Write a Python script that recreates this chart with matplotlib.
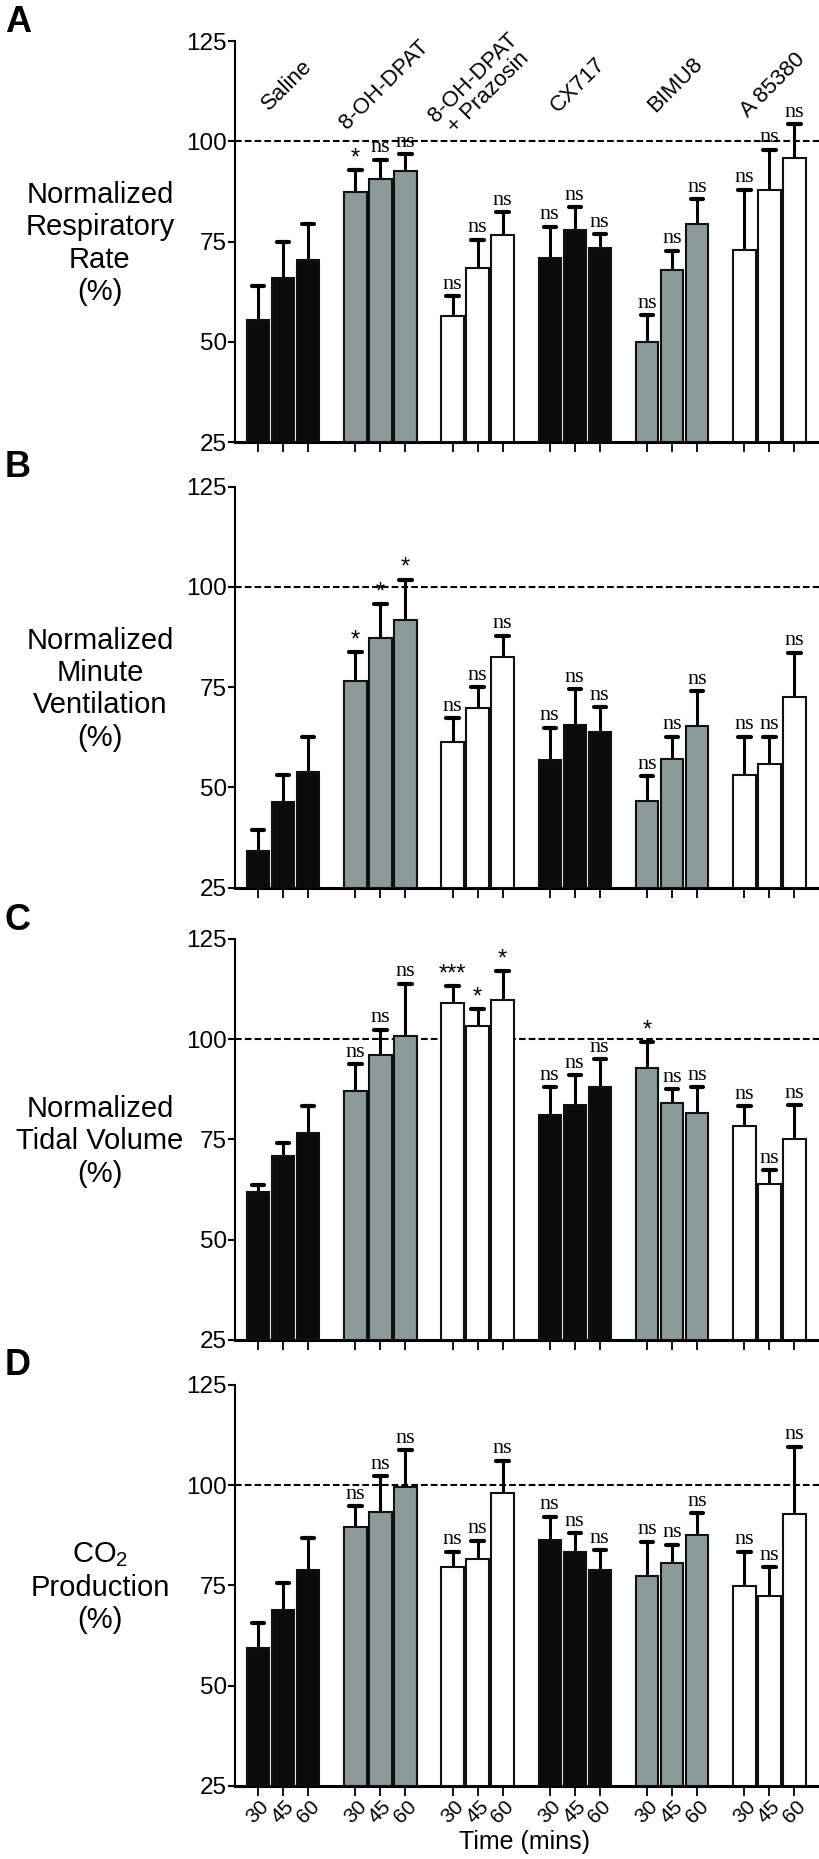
import matplotlib
matplotlib.use('Agg')
import matplotlib.pyplot as plt
import matplotlib.transforms as mtransforms
import numpy as np

groups = ['Saline', '8-OH-DPAT', '8-OH-DPAT\n+ Prazosin', 'CX717', 'BIMU8', 'A 85380']
times = ['30', '45', '60']
group_colors = ['#0b0b0b', '#8c9b98', '#ffffff', '#0b0b0b', '#8c9b98', '#ffffff']

panel_letters = ['A', 'B', 'C', 'D']
panel_ylabels = ['Normalized\nRespiratory\nRate\n(%)',
                 'Normalized\nMinute\nVentilation\n(%)',
                 'Normalized\nTidal Volume\n(%)',
                 'CO$_\\mathregular{2}$\nProduction\n(%)']

# mean and SEM, 3 time points per group
resp_mean = [55.4, 65.9, 70.5, 87.3, 90.6, 92.6, 56.4, 68.4, 76.7,
             70.9, 77.8, 73.4, 49.9, 68.0, 79.5, 72.9, 87.9, 95.8]
resp_sem = [8.6, 9.1, 8.9, 5.5, 4.8, 4.2, 5.0, 7.1, 5.6,
            7.8, 5.7, 3.4, 6.8, 4.7, 6.0, 15.0, 10.0, 8.4]
resp_sig = ['', '', '', '*', 'ns', 'ns', 'ns', 'ns', 'ns',
            'ns', 'ns', 'ns', 'ns', 'ns', 'ns', 'ns', 'ns', 'ns']

mv_mean = [34.1, 46.3, 53.9, 76.5, 87.2, 91.8, 61.4, 69.8, 82.5,
           56.9, 65.5, 63.7, 46.5, 57.0, 65.3, 53.1, 55.9, 72.5]
mv_sem = [5.3, 6.7, 8.7, 7.2, 8.5, 10.0, 5.9, 5.2, 5.3,
          8.0, 9.0, 6.3, 6.3, 5.7, 8.7, 9.6, 6.8, 11.1]
mv_sig = ['', '', '', '*', '*', '*', 'ns', 'ns', 'ns',
          'ns', 'ns', 'ns', 'ns', 'ns', 'ns', 'ns', 'ns', 'ns']

tv_mean = [61.9, 70.8, 76.6, 87.1, 96.1, 100.9, 109.1, 103.3, 109.7,
           81.0, 83.7, 88.0, 92.9, 84.0, 81.6, 78.4, 64.0, 75.0]
tv_sem = [1.7, 3.2, 6.7, 6.7, 6.3, 12.9, 4.1, 4.2, 7.3,
          7.1, 7.4, 7.0, 6.4, 3.6, 6.4, 4.9, 3.3, 8.6]
tv_sig = ['', '', '', 'ns', 'ns', 'ns', '***', '*', '*',
          'ns', 'ns', 'ns', '*', 'ns', 'ns', 'ns', 'ns', 'ns']

co2_mean = [59.5, 69.0, 78.9, 89.7, 93.3, 99.5, 79.7, 81.6, 98.0,
            86.3, 83.3, 78.8, 77.3, 80.5, 87.6, 74.8, 72.3, 92.9]
co2_sem = [6.2, 6.5, 7.9, 5.1, 9.0, 9.3, 3.7, 4.6, 8.1,
           5.8, 4.8, 5.0, 8.6, 4.7, 5.4, 8.6, 7.3, 16.7]
co2_sig = ['', '', '', 'ns', 'ns', 'ns', 'ns', 'ns', 'ns',
           'ns', 'ns', 'ns', 'ns', 'ns', 'ns', 'ns', 'ns', 'ns']

panels = [(resp_mean, resp_sem, resp_sig),
          (mv_mean, mv_sem, mv_sig),
          (tv_mean, tv_sem, tv_sig),
          (co2_mean, co2_sem, co2_sig)]

plt.rcParams['font.family'] = ['Liberation Sans', 'DejaVu Sans']
plt.rcParams['mathtext.fontset'] = 'custom'
plt.rcParams['mathtext.rm'] = 'Liberation Sans'

fig = plt.figure(figsize=(8.19, 18.59), dpi=100)
bottoms = [0.7622, 0.5225, 0.2792, 0.0393]
height = 0.2157
group_gap = 3.89
x = np.array([g * group_gap + j for g in range(6) for j in range(3)])
colors = [c for c in group_colors for _ in range(3)]

for p, (means, sems, sigs) in enumerate(panels):
    ax = fig.add_axes([0.287, bottoms[p], 0.713, height])
    means = np.array(means)
    tops = means + np.array(sems)
    ax.vlines(x, means, tops, color='black', lw=2.2, zorder=2)
    ax.hlines(tops, x - 0.25, x + 0.25, color='black', lw=3.0, zorder=2,
              capstyle='round')
    ax.bar(x, means - 25, bottom=25, width=0.9, color=colors,
           edgecolor='#111111', linewidth=1.5, zorder=3)
    ax.axhline(100, color='black', lw=1.5, ls=(0, (3.2, 1.5)), zorder=1)
    for xi, t, s in zip(x, tops, sigs):
        if s == 'ns':
            ax.text(xi, t + 0.6, s, ha='center', va='bottom', fontsize=16,
                    family='Liberation Serif', zorder=4)
        elif s:
            ax.text(xi, t + 0.2, s, ha='center', va='bottom', fontsize=17,
                    zorder=4)

    ax.set_ylim(25, 125)
    ax.set_xlim(-0.92, 22.44)
    ax.set_yticks([25, 50, 75, 100, 125])
    ax.tick_params(axis='y', labelsize=17.5, length=5, width=1.5, pad=1)
    ax.set_xticks(x)
    ax.tick_params(axis='x', length=7, width=1.3)
    if p == 3:
        ax.set_xticklabels(times * 6, rotation=45, fontsize=15, ha='center')
        ax.tick_params(axis='x', pad=1)
    else:
        ax.set_xticklabels([])
    for side in ['top', 'right']:
        ax.spines[side].set_visible(False)
    ax.spines['left'].set_linewidth(1.5)
    ax.spines['bottom'].set_linewidth(2.2)

    trans = mtransforms.blended_transform_factory(fig.transFigure, ax.transData)
    ax.text(0.122, 74.5, panel_ylabels[p], transform=trans, ha='center',
            va='center', fontsize=21, linespacing=1.2)
    fig.text(0.006, bottoms[p] + height + 0.0102, panel_letters[p],
             fontsize=26, fontweight='bold', ha='left', va='center')

    if p == 0:
        for g, name in enumerate(groups):
            ax.text(g * group_gap + 1.15, 114, name, rotation=45, ha='center',
                    va='center', fontsize=16, linespacing=1.0)

fig.text(0.641, 0.0092, 'Time (mins)', ha='center', va='center', fontsize=18)

fig.savefig('out.png', dpi=100)
